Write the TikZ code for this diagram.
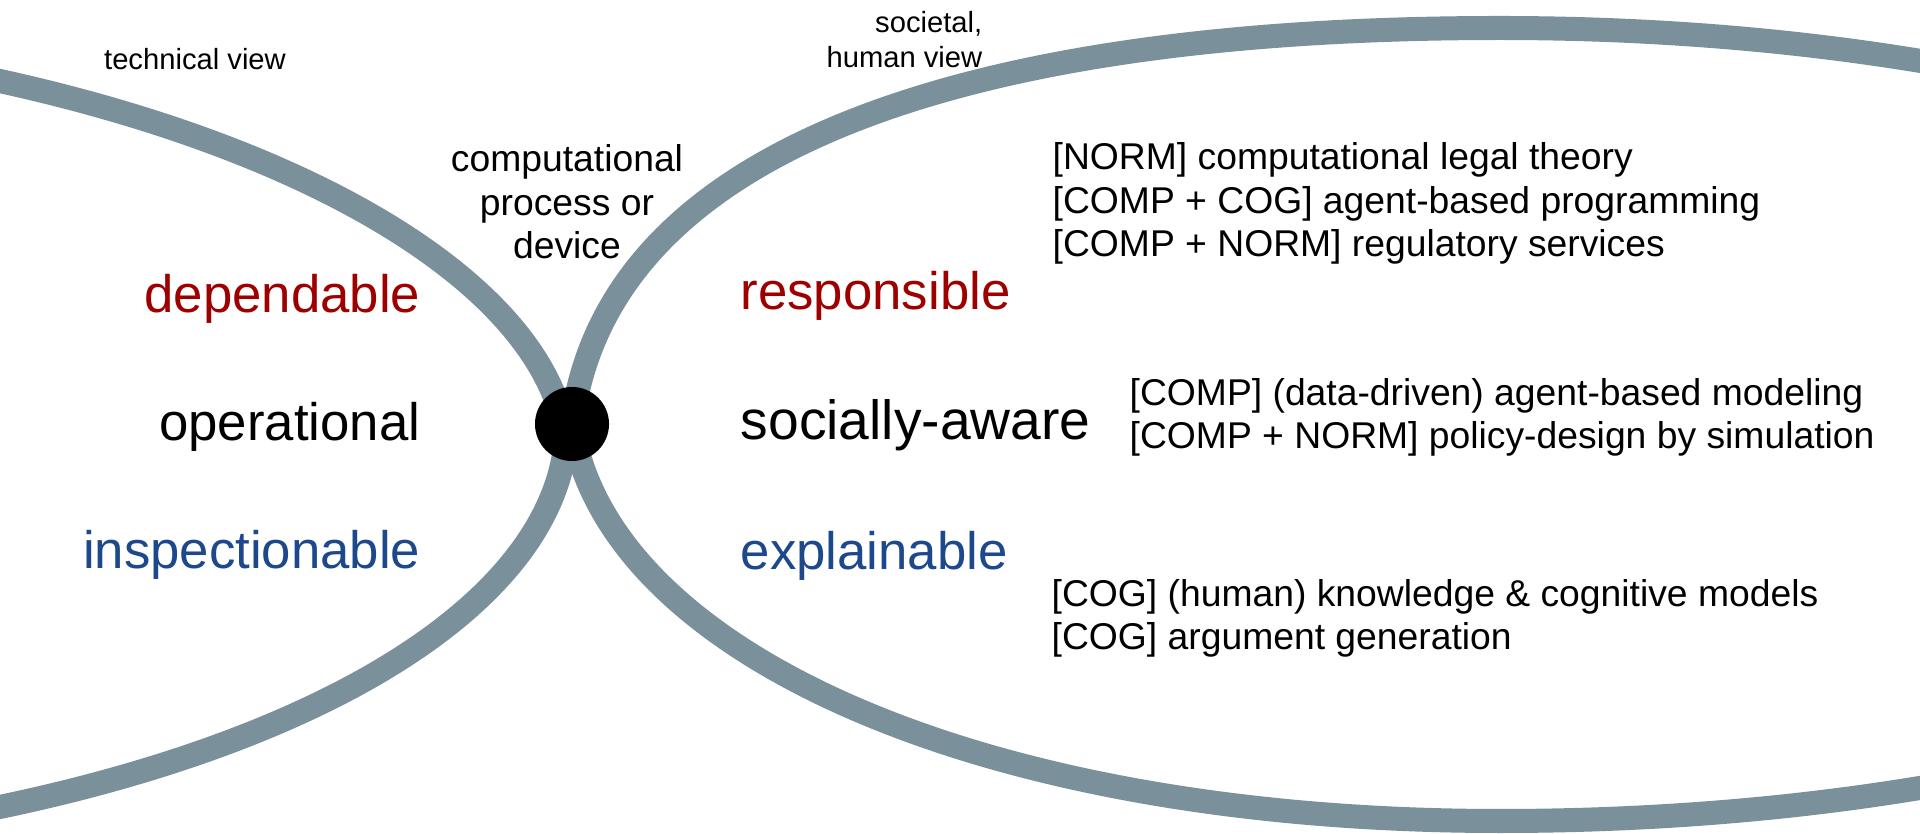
\documentclass[tikz,border=0pt]{standalone}
\usepackage{fontspec}
\setmainfont{Liberation Sans}
\usepackage{tikz}

\definecolor{loopgray}{RGB}{122,144,155}
\definecolor{viewred}{RGB}{158,0,0}
\definecolor{viewblue}{RGB}{30,72,140}

\tikzset{
  bigword/.style={font=\fontsize{15}{18}\selectfont, inner sep=0pt},
  smallnote/.style={font=\fontsize{8.3}{10}\selectfont, inner sep=0pt},
  listtext/.style={font=\fontsize{10.6}{12.4}\selectfont, inner sep=0pt, align=left}
}

\begin{document}
\begin{tikzpicture}[x=0.01cm, y=-0.01cm]

    \useasboundingbox (0,0) rectangle (1920,834);
    \clip (0,0) rectangle (1920,834);

    % the two views, drawn as wide grey loops that meet in the middle
    \begin{scope}[line width=0.24cm, draw=loopgray]
    \draw (-500,30) .. controls (100,30) and (540,230) .. (566,440)
          .. controls (545,670) and (100,855) .. (-500,855);
    \draw (572,424) .. controls (605,155) and (950,28) .. (1500,28)
          .. controls (2080,28) and (2550,205) .. (2550,424)
          .. controls (2550,643) and (2080,821) .. (1500,821)
          .. controls (975,821) and (605,650) .. (572,424) -- cycle;
    \end{scope}

    % the device itself
    \node[circle, fill=black, minimum size=0.74cm, inner sep=0pt] (core) at (572,424) {};

    % left side: technical qualities
    \node[bigword, text=viewred, anchor=base east] (dependable) at (421,313) {dependable};
    \node[bigword, anchor=base east] (operational) at (421,441) {operational};
    \node[bigword, text=viewblue, anchor=base east] (inspectionable) at (421,569) {inspectionable};

    % right side: societal qualities
    \node[bigword, text=viewred, anchor=base west] (responsible) at (740,310) {responsible};
    \node[bigword, font=\fontsize{15.7}{19}\selectfont, anchor=base west] (sociallyaware) at (740,440) {socially-aware};
    \node[bigword, text=viewblue, anchor=base west] (explainable) at (740,570) {explainable};

    % view names and the centre label (base = last line)
    \node[smallnote, anchor=base] (technical) at (195,70) {technical view};
    \node[smallnote, align=right, anchor=base east] (societal) at (983,68) {societal,\\human view};
    \node[listtext, align=center, anchor=base] (device) at (567,259) {computational\\process or\\device};

    % research lines
    \node[listtext, anchor=base west] (respitems) at (1052,257)
        {[NORM] computational legal theory\\{}[COMP + COG] agent-based programming\\{}[COMP + NORM] regulatory services};
    \node[listtext, anchor=base west] (socitems) at (1129,449)
        {[COMP] (data-driven) agent-based modeling\\{}[COMP + NORM] policy-design by simulation};
    \node[listtext, anchor=base west] (explitems) at (1051,650)
        {[COG] (human) knowledge \& cognitive models\\{}[COG] argument generation};

\end{tikzpicture}
\end{document}
